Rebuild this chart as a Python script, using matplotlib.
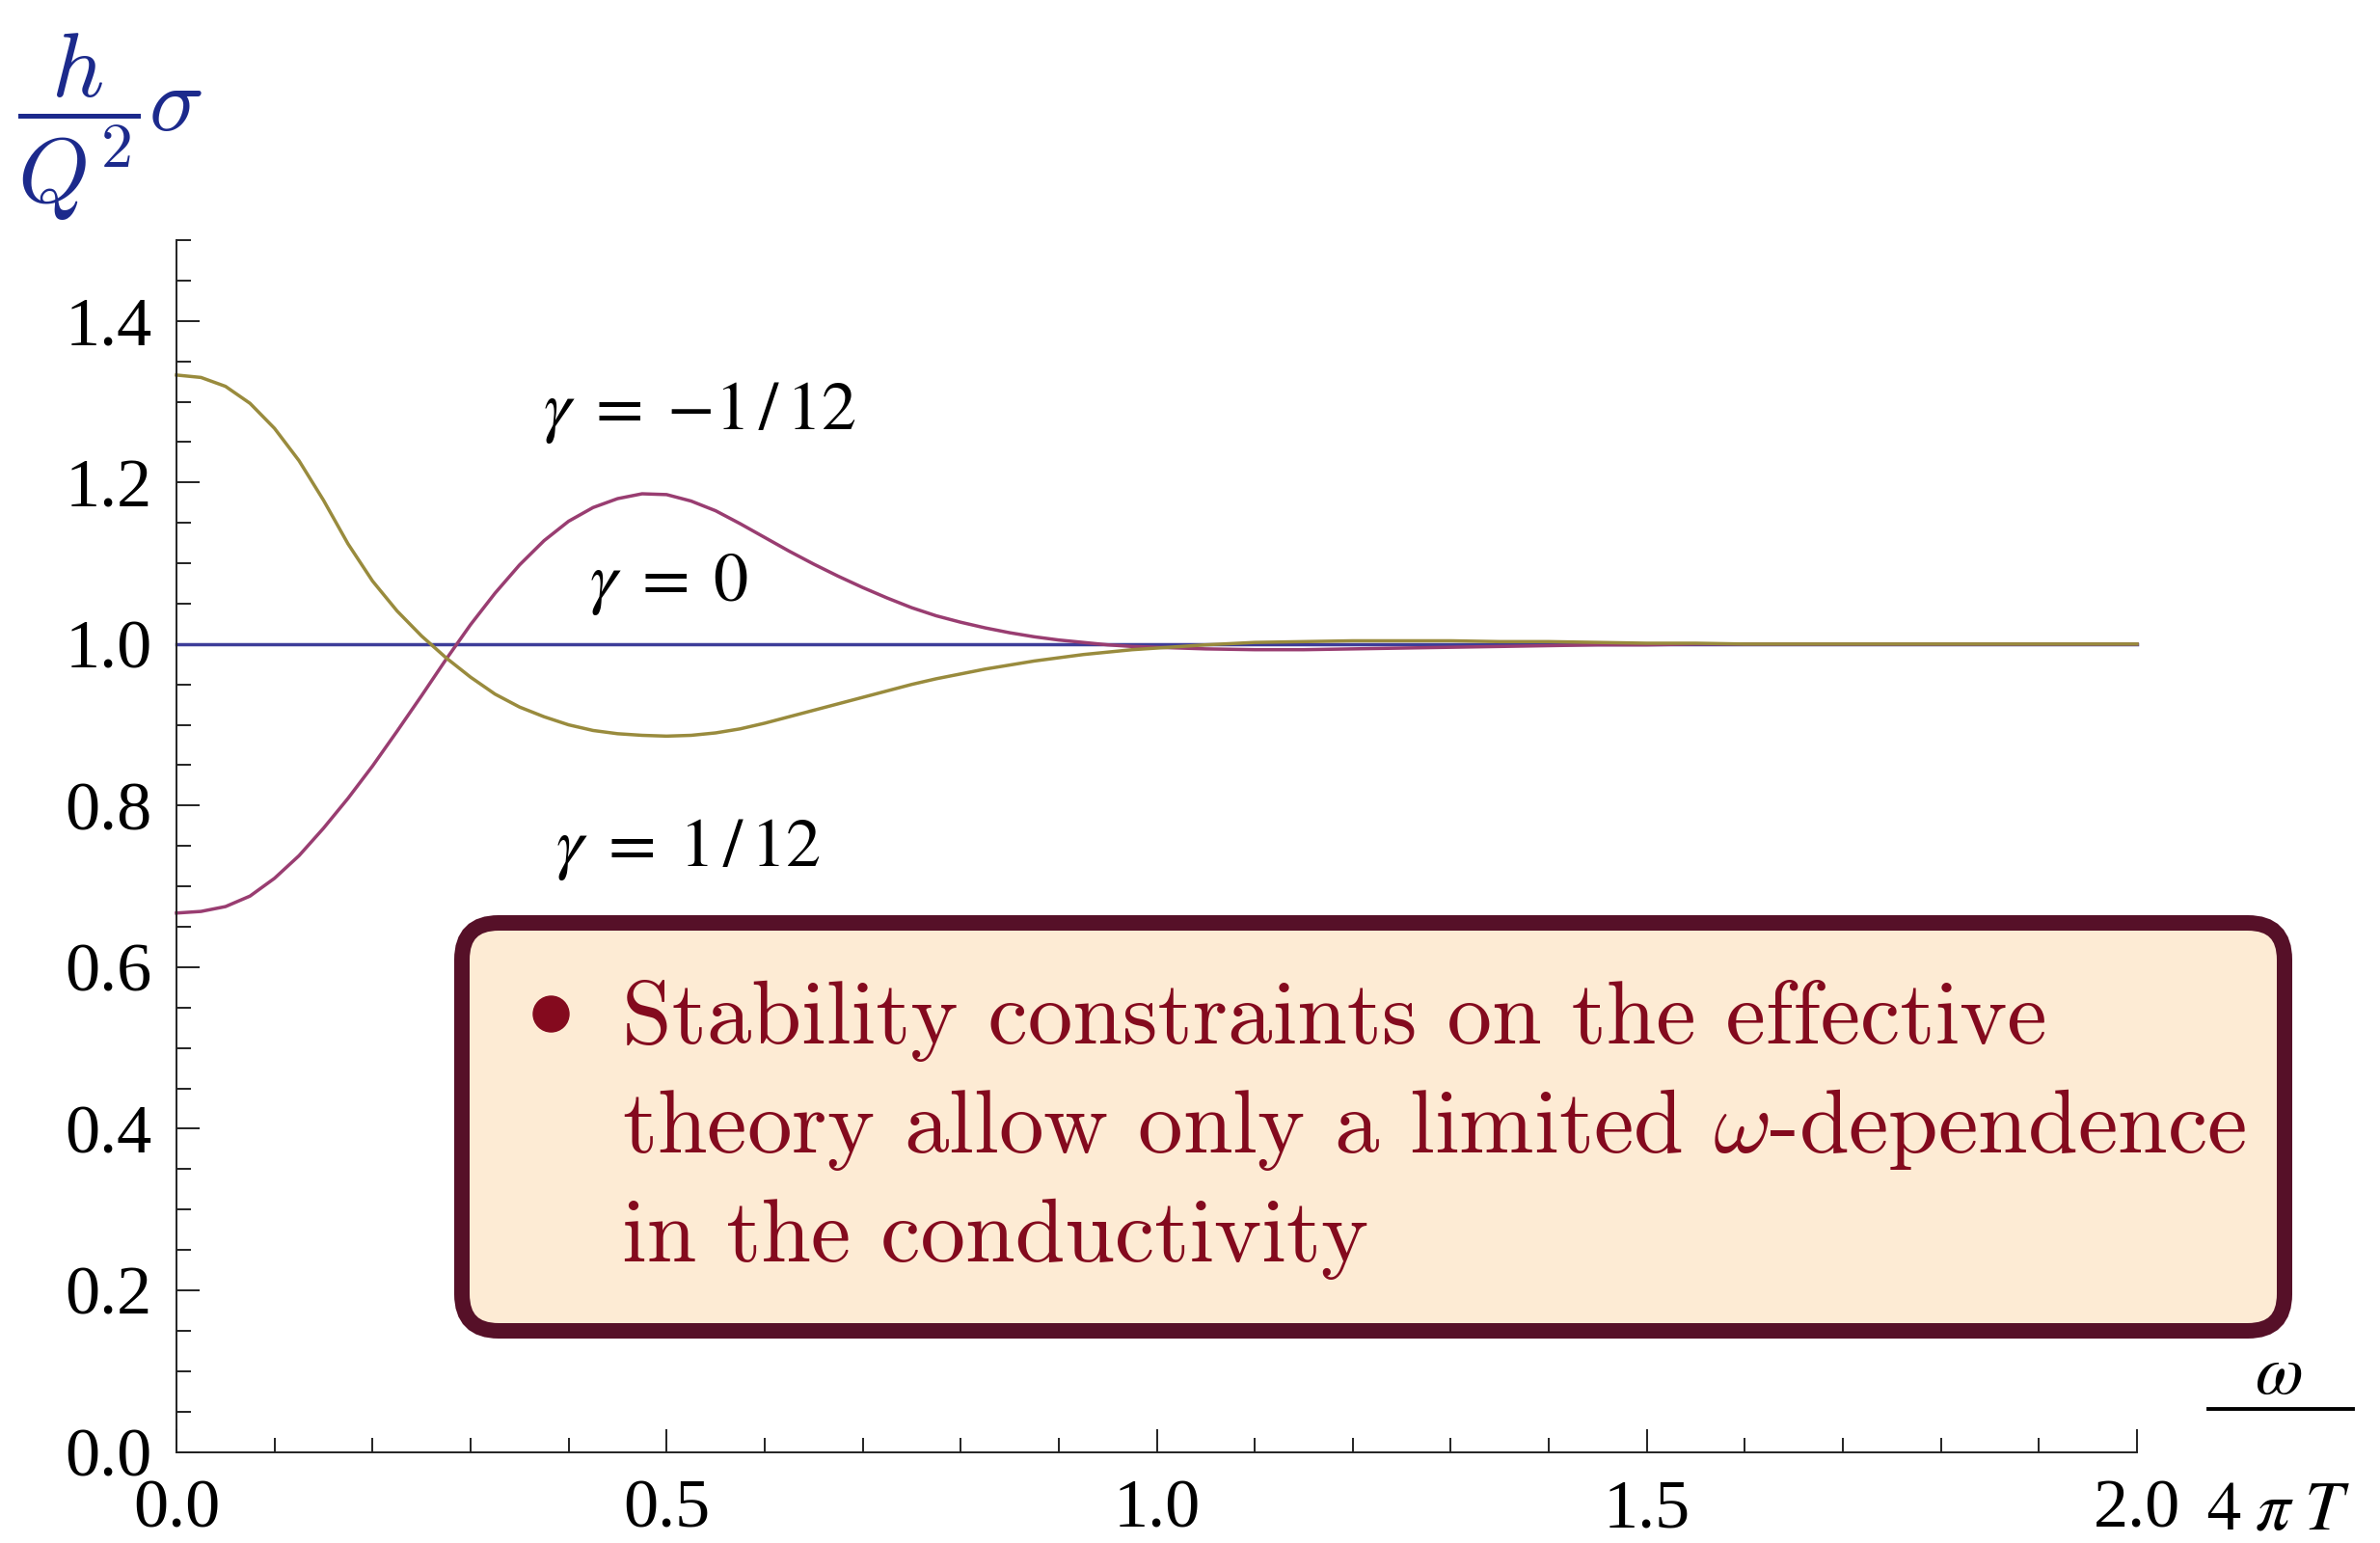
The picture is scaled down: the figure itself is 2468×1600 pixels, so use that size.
import numpy as np
import matplotlib
matplotlib.use("Agg")
import matplotlib.pyplot as plt
from matplotlib.lines import Line2D
from matplotlib.patches import FancyBboxPatch
from matplotlib.ticker import MultipleLocator, FormatStrFormatter

# conductivity h sigma / Q^2 against w / (4 pi T)
omega = np.concatenate([np.linspace(0.0, 1.0, 41), np.linspace(1.05, 2.0, 20)])

sigma_g0 = [1.0] * 61

sigma_minus = [0.667, 0.669, 0.675, 0.688, 0.710, 0.738, 0.772, 0.809, 0.849, 0.892,
               0.936, 0.981, 1.024, 1.063, 1.098, 1.128, 1.152, 1.169, 1.180, 1.186,
               1.185, 1.177, 1.165, 1.149, 1.132, 1.115, 1.099, 1.084, 1.070, 1.057,
               1.045, 1.035, 1.027, 1.020, 1.014, 1.009, 1.005, 1.002, 0.999, 0.997,
               0.996,
               0.994, 0.993, 0.993, 0.994, 0.995, 0.996, 0.997, 0.998, 0.999, 0.999,
               1.000, 1.000, 1.000, 1.000, 1.000, 1.000, 1.000, 1.000, 1.000, 1.000]

sigma_plus = [1.333, 1.330, 1.319, 1.298, 1.267, 1.227, 1.178, 1.124, 1.078, 1.041,
              1.010, 0.983, 0.959, 0.938, 0.922, 0.910, 0.900, 0.893, 0.889, 0.887,
              0.886, 0.887, 0.890, 0.895, 0.902, 0.910, 0.918, 0.926, 0.934, 0.942,
              0.950, 0.957, 0.963, 0.969, 0.974, 0.979, 0.983, 0.987, 0.990, 0.993,
              0.995,
              0.999, 1.002, 1.003, 1.004, 1.004, 1.004, 1.003, 1.003, 1.002, 1.001,
              1.001, 1.000, 1.000, 1.000, 1.000, 1.000, 1.000, 1.000, 1.000, 1.000]

curve_labels = [r"$\gamma\;=\;{-}1\,/\,12$", r"$\gamma\;=\;0$", r"$\gamma\;=\;1\,/\,12$"]
label_pos = [(0.374, 1.287), (0.421, 1.074), (0.387, 0.746)]

bullet_lines = ["Stability constraints on the effective",
                r"theory allow only a limited $\omega$-dependence",
                "in the conductivity"]

W, H = 2468, 1600
dpi = 100

def fx(px):
    return px / W

def fy(py):
    return 1 - py / H

fig = plt.figure(figsize=(W / dpi, H / dpi), dpi=dpi)
ax = fig.add_axes([fx(183), fy(1505.5), fx(2216) - fx(183), fy(249) - fy(1505.5)])

ax.plot(omega, sigma_g0, color="#3D3D99", lw=2.5, clip_on=False)
ax.plot(omega, sigma_minus, color="#993D71", lw=2.5, clip_on=False)
ax.plot(omega, sigma_plus, color="#998B3D", lw=2.5, clip_on=False)

ax.set_xlim(0, 2.0)
ax.set_ylim(0, 1.5)
for s in ("top", "right"):
    ax.spines[s].set_visible(False)
for s in ("left", "bottom"):
    ax.spines[s].set_linewidth(1.4)
    ax.spines[s].set_color("#222222")

ax.xaxis.set_major_locator(MultipleLocator(0.5))
ax.xaxis.set_minor_locator(MultipleLocator(0.1))
ax.yaxis.set_major_locator(MultipleLocator(0.2))
ax.yaxis.set_minor_locator(MultipleLocator(0.05))
ax.xaxis.set_major_formatter(FormatStrFormatter("%.1f"))
ax.yaxis.set_major_formatter(FormatStrFormatter("%.1f"))
ax.tick_params(which="both", direction="in", color="#222222", width=1.4)
ax.tick_params(which="major", length=17)
ax.tick_params(which="minor", length=10.5)
ax.tick_params(axis="x", which="major", pad=20)
ax.tick_params(axis="y", which="major", pad=18)
for lab in ax.get_xticklabels() + ax.get_yticklabels():
    lab.set_fontfamily("Liberation Serif")
    lab.set_fontsize(52)

for txt, (x, y) in zip(curve_labels, label_pos):
    ax.text(x, y, txt, fontsize=52, math_fontfamily="stix", ha="left", va="center")

# y label: h sigma / Q^2
fig.text(fx(18), fy(132), r"$\dfrac{h}{Q^2}\sigma$", fontsize=68,
         math_fontfamily="cm", color="#1C2A8C", ha="left", va="center")

# x label: w over 4 pi T, set beside the tick row
fig.text(fx(2363), fy(1425), r"$\omega$", fontsize=52, math_fontfamily="stix",
         ha="center", va="center")
fig.add_artist(Line2D([fx(2290), fx(2440)], [fy(1461), fy(1461)],
                      transform=fig.transFigure, color="black", lw=2.8))
fig.text(fx(2363), fy(1566), r"$4\;\pi\;T$", fontsize=52, math_fontfamily="stix",
         ha="center", va="center")

# callout box
bw = 16
box = FancyBboxPatch((fx(471 + bw / 2), fy(1388 - bw / 2)),
                     fx(2377 - bw / 2) - fx(471 + bw / 2),
                     fy(949 + bw / 2) - fy(1388 - bw / 2),
                     boxstyle="round,pad=0,rounding_size=%f" % fx(38),
                     transform=fig.transFigure, facecolor="#FDEBD4",
                     edgecolor="#561028", lw=bw * 72 / dpi,
                     mutation_aspect=W / H)
fig.add_artist(box)

fig.add_artist(Line2D([fx(571)], [fy(1051)], transform=fig.transFigure,
                      marker="o", ms=37 * 72 / dpi, color="#840A1E", lw=0))
for i, line in enumerate(bullet_lines):
    fig.text(fx(645), fy(1082 + 113 * i), line, fontsize=67, fontfamily="cmr10",
             math_fontfamily="cm", color="#840A1E", ha="left", va="baseline")

fig.savefig("out.png", dpi=dpi)
